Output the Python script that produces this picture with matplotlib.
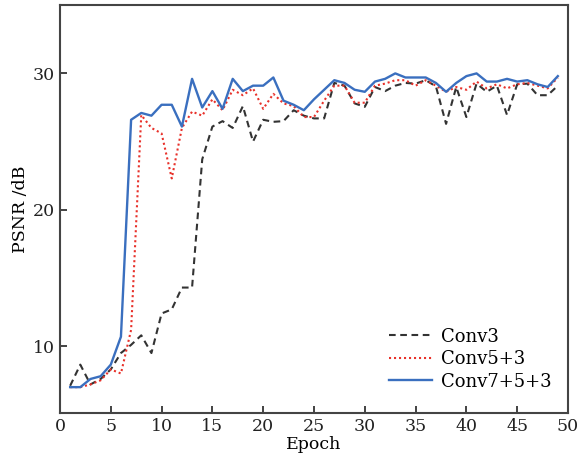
import numpy as np
import matplotlib
matplotlib.use("Agg")
import matplotlib.pyplot as plt

# %% Daten
epoch = np.arange(1, 50)

conv3 = [7.1, 8.65, 7.2, 7.6, 8.3, 9.5, 10.1, 10.8, 9.5, 12.4,
         12.7, 14.3, 14.3, 23.7, 26.1, 26.5, 26.0, 27.6, 25.0, 26.6,
         26.45, 26.5, 27.3, 26.9, 26.7, 26.7, 29.3, 29.1, 27.8, 27.55,
         29.0, 28.7, 29.1, 29.3, 29.25, 29.5, 29.05, 26.3, 29.0, 26.8,
         29.25, 28.65, 29.1, 26.95, 29.2, 29.25, 28.4, 28.4, 29.1]

conv53 = [7.0, 7.0, 7.2, 7.5, 8.3, 8.0, 11.2, 26.95, 26.0, 25.6,
          22.3, 26.0, 27.2, 26.9, 28.1, 27.3, 28.8, 28.4, 28.9, 27.4,
          28.5, 27.8, 27.6, 26.8, 26.8, 28.0, 29.1, 29.1, 27.85, 27.85,
          29.1, 29.25, 29.5, 29.5, 29.1, 29.5, 29.1, 28.65, 29.0, 28.8,
          29.4, 28.9, 29.2, 28.9, 29.2, 29.3, 29.1, 28.9, 29.7]

conv753 = [7.0, 7.0, 7.6, 7.8, 8.65, 10.7, 26.6, 27.1, 26.9, 27.7,
           27.7, 26.1, 29.6, 27.5, 28.7, 27.4, 29.6, 28.7, 29.1, 29.1,
           29.7, 28.0, 27.7, 27.3, 28.1, 28.8, 29.5, 29.3, 28.8, 28.65,
           29.4, 29.6, 30.0, 29.7, 29.7, 29.7, 29.3, 28.65, 29.3, 29.8,
           30.0, 29.4, 29.4, 29.6, 29.4, 29.5, 29.2, 29.0, 29.8]

# %% Plot
plt.rcParams["font.family"] = ["DejaVu Serif"]

fig = plt.figure(figsize=(5.79, 4.71), dpi=100)
ax = fig.add_axes([0.1036, 0.123, 0.8774, 0.866])

ax.plot(epoch, conv3, color="#333333", linestyle=(0, (3.2, 2.2)), lw=1.5, label="Conv3")
ax.plot(epoch, conv53, color="#e8312a", linestyle=(0, (1, 1.4)), lw=1.5, label="Conv5+3")
ax.plot(epoch, conv753, color="#3a6fbf", linestyle="-", lw=1.7, label="Conv7+5+3")

ax.set_xlim(0, 50)
ax.set_ylim(5.1, 35)
ax.set_xticks(np.arange(0, 51, 5))
ax.set_yticks([10, 20, 30])
ax.tick_params(direction="in", length=5, width=1.2, labelsize=12.5, colors="#222222")
for s in ax.spines.values():
    s.set_linewidth(1.5)
    s.set_color("#444444")

ax.set_xlabel("Epoch", fontsize=12.5, labelpad=1)
ax.set_ylabel("PSNR /dB", fontsize=12.5, labelpad=3)

ax.legend(loc="lower right", frameon=False, fontsize=13, handlelength=2.4,
          handletextpad=0.5, labelspacing=0.25, bbox_to_anchor=(1.0, 0.015))

fig.savefig("out.png", dpi=100)
